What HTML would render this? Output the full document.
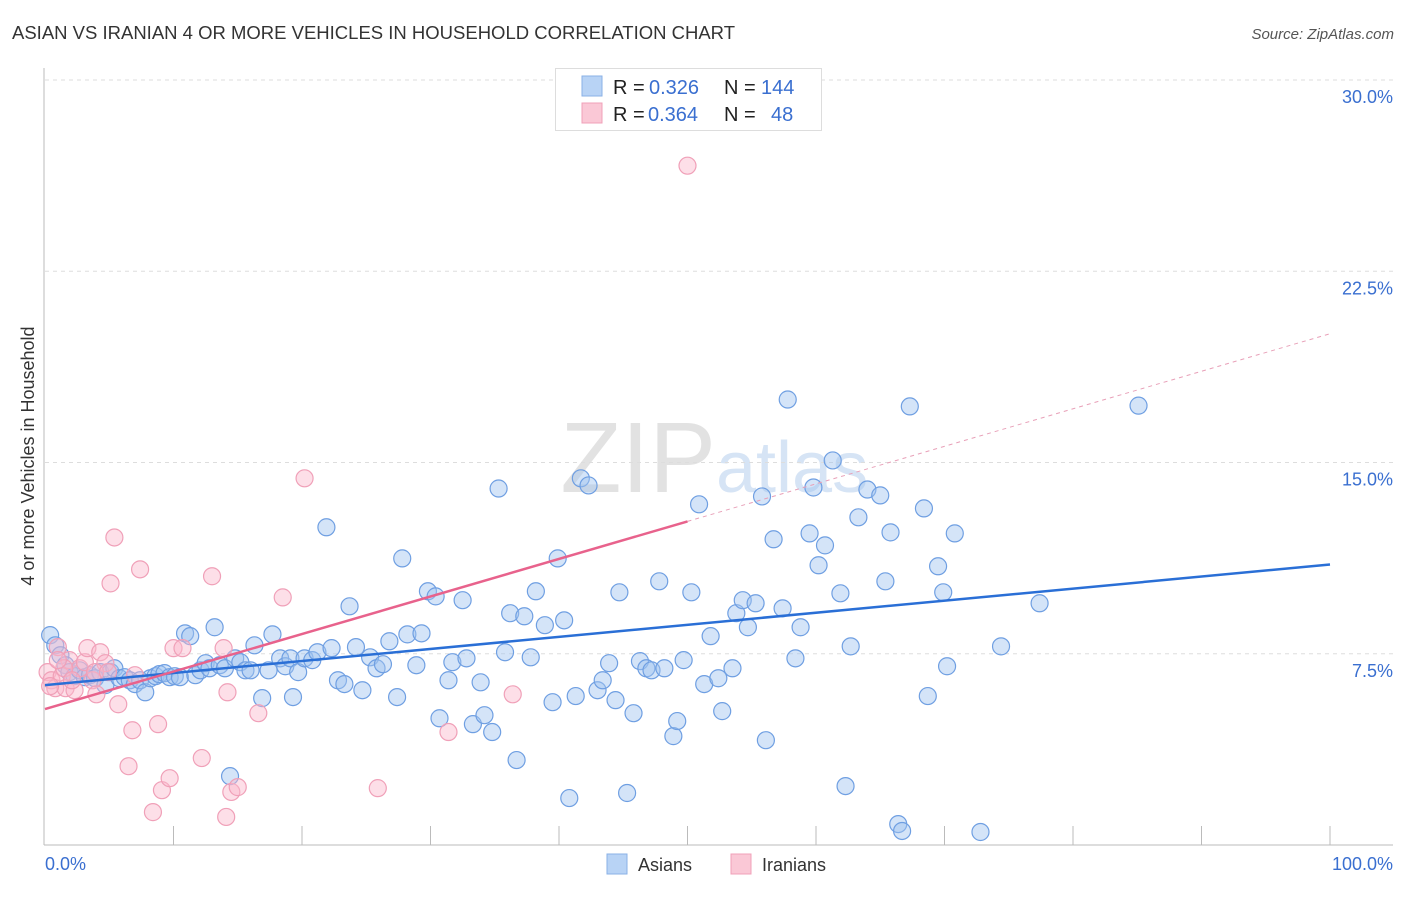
<!DOCTYPE html>
<html><head><meta charset="utf-8"><style>
body{margin:0;background:#fff;font-family:"Liberation Sans",sans-serif;}
svg text{font-family:"Liberation Sans",sans-serif;}
</style></head><body>
<svg id="chart" width="1406" height="892" xmlns="http://www.w3.org/2000/svg">
<text x="12" y="39" font-size="18.5" fill="#333">ASIAN VS IRANIAN 4 OR MORE VEHICLES IN HOUSEHOLD CORRELATION CHART</text>
<text x="1394" y="39" font-size="15" fill="#555" font-style="italic" text-anchor="end">Source: ZipAtlas.com</text>
<text x="34" y="456" font-size="18" fill="#333" text-anchor="middle" transform="rotate(-90 34 456)">4 or more Vehicles in Household</text>
<text x="716" y="492" font-size="100" fill="#e2e2e2" text-anchor="end" font-family="Liberation Serif">ZIP</text>
<text x="716" y="492" font-size="72" fill="#d6e4f5">atlas</text>
<g id="grid"></g><g id="axes"></g><g id="pts"></g><g id="lines"></g>
<g>
<rect x="555.5" y="68.5" width="266" height="62" fill="#fff" stroke="#ddd"/>
<rect x="582" y="76" width="20" height="20" fill="#b8d3f5" stroke="#8ab0e6"/>
<rect x="582" y="103" width="20" height="20" fill="#fac8d6" stroke="#f0a0b8"/>
<text x="613" y="94" font-size="20" fill="#222">R = <tspan x="649" fill="#3a6fd0">0.326</tspan><tspan x="724">N = </tspan><tspan x="761" fill="#3a6fd0">144</tspan></text>
<text x="613" y="121" font-size="20" fill="#222">R = <tspan x="648" fill="#3a6fd0">0.364</tspan><tspan x="724">N = </tspan><tspan x="771" fill="#3a6fd0">48</tspan></text>
</g>
<g>
<rect x="607" y="854" width="20" height="20" fill="#b8d3f5" stroke="#8ab0e6"/>
<text x="638" y="871" font-size="18" fill="#333">Asians</text>
<rect x="731" y="854" width="20" height="20" fill="#fac8d6" stroke="#f0a0b8"/>
<text x="762" y="871" font-size="18" fill="#333">Iranians</text>
</g>
</svg>
<script>
const yTicks=[7.5,15,22.5,30];
const yTickLabels=["7.5%","15.0%","22.5%","30.0%"];
const xTickLabels=["0.0%","100.0%"];
const asianX=[.4,.8,1.2,1.6,1.9,2.3,2.7,3.1,3.5,3.9,4.3,4.7,5.1,5.4,5.8,6.2,6.6,7.0,7.4,7.8,8.2,8.6,8.9,9.3,9.7,10.1,10.5,10.9,11.3,11.7,12.1,12.5,12.8,13.2,13.6,14.0,14.4,14.8,15.2,15.6,16.0,16.3,16.9,17.4,17.7,18.3,18.7,19.1,19.3,19.7,20.2,20.8,21.2,21.9,22.3,22.8,23.3,23.7,24.2,24.7,25.3,25.8,26.3,26.8,27.4,27.8,28.2,28.9,29.3,29.8,30.4,30.7,31.4,31.7,32.5,32.8,33.3,33.9,34.2,34.8,35.3,35.8,36.2,36.7,37.3,37.8,38.2,38.9,39.5,39.9,40.4,40.8,41.3,41.7,42.3,43.0,43.4,43.9,44.4,44.7,45.3,45.8,46.3,46.8,47.2,47.8,48.2,48.9,49.2,49.7,50.3,50.9,51.3,51.8,52.4,52.7,53.5,53.8,54.3,54.7,55.3,55.8,56.1,56.7,57.4,57.8,58.4,58.8,59.5,59.8,60.2,60.7,61.3,61.9,62.3,62.7,63.3,64.0,65.0,65.4,65.8,66.4,66.7,67.3,68.4,68.7,69.5,69.9,70.2,70.8,72.8,74.4,77.4,85.1];
const asianY=[8.23,7.83,7.44,7.05,6.78,6.62,6.85,6.58,6.66,6.54,6.78,6.27,6.78,6.93,6.54,6.58,6.46,6.31,6.46,5.99,6.54,6.62,6.70,6.74,6.58,6.62,6.58,8.30,8.19,6.66,6.85,7.13,6.93,8.54,7.05,6.93,2.70,7.32,7.17,6.85,6.85,7.83,5.76,6.85,8.26,7.32,7.01,7.32,5.80,6.78,7.32,7.25,7.56,12.46,7.72,6.46,6.31,9.36,7.76,6.07,7.36,6.93,7.09,7.99,5.80,11.24,8.26,7.05,8.30,9.95,9.75,4.97,6.46,7.17,9.60,7.32,4.74,6.38,5.09,4.43,13.98,7.56,9.09,3.33,8.97,7.36,9.95,8.62,5.60,11.24,8.81,1.84,5.84,14.38,14.10,6.07,6.46,7.13,5.68,9.91,2.04,5.17,7.21,6.93,6.85,10.34,6.93,4.27,4.86,7.25,9.91,13.36,6.31,8.19,6.54,5.25,6.93,9.09,9.60,8.54,9.48,13.67,4.11,11.99,9.28,17.47,7.32,8.54,12.22,14.02,10.97,11.75,15.08,9.87,2.31,7.79,12.85,13.94,13.71,10.34,12.26,.82,.55,17.20,13.20,5.84,10.93,9.91,7.01,12.22,.51,7.79,9.48,17.23];
const iranX=[.2,.5,.8,1.0,1.3,1.6,1.9,2.3,2.7,3.1,3.3,3.7,4.0,4.3,4.7,5.1,5.4,5.7,6.5,6.8,7.0,7.4,8.4,8.8,9.1,9.7,10.0,10.7,12.2,13.0,13.9,14.2,14.5,15.0,14.1,16.6,18.5,20.2,25.9,31.4,36.4,50.0,1.5,2.1,3.9,4.9,1.0,.4];
const iranY=[6.78,6.46,6.15,7.76,6.62,6.15,7.25,6.07,6.93,7.17,7.72,6.46,5.91,7.56,7.13,10.26,12.06,5.52,3.09,4.50,6.66,10.81,1.29,4.74,2.15,2.62,7.72,7.72,3.41,10.54,7.72,5.99,2.08,2.27,1.10,5.17,9.71,14.38,2.23,4.43,5.91,26.64,6.93,6.46,6.78,6.78,7.25,6.23];
const asianTrend=[6.27,11.0];
const iranTrend=[5.33,20.05];
const NS="http://www.w3.org/2000/svg";
const X0=45,X1=1330,Y0=845,YTOP=80;
const sx=v=>X0+(X1-X0)*v/100;
const sy=v=>Y0-(Y0-YTOP)*v/30;
function mk(t,a,p){const e=document.createElementNS(NS,t);for(const k in a)e.setAttribute(k,a[k]);p.appendChild(e);return e;}
const grid=document.getElementById('grid'),axes=document.getElementById('axes'),pts=document.getElementById('pts'),lines=document.getElementById('lines');
yTicks.forEach((t,i)=>{
 const l=mk('line',{x1:45,x2:1393,y1:sy(t),y2:sy(t),stroke:'#ddd','stroke-dasharray':'4,4'},grid);
 
 
 const tx=mk('text',{x:1393,y:sy(t)+23,'font-size':18,fill:'#3a6fd0','text-anchor':'end'},grid);
 tx.textContent=yTickLabels[i];
 
 
});
let a=mk('line',{x1:44,x2:44,y1:68,y2:845,stroke:'#bbb'},axes);


a=mk('line',{x1:44,x2:1393,y1:845,y2:845,stroke:'#bbb'},axes);


for(let k=1;k<=10;k++){const t=mk('line',{x1:sx(k*10),x2:sx(k*10),y1:826,y2:845,stroke:'#bbb'},axes);
 
 }
[[0,45,'start'],[1,1393,'end']].forEach(([i,x,an])=>{const t=mk('text',{x:x,y:870,'font-size':18,fill:'#3a6fd0','text-anchor':an},axes);t.textContent=xTickLabels[i];
 
 });
asianX.forEach((v,i)=>{const c=mk('circle',{cx:sx(v),cy:sy(asianY[i]),r:8.5,fill:'rgba(160,196,240,0.45)',stroke:'#6f9fe2','stroke-width':1.2},pts);
 
 });
iranX.forEach((v,i)=>{const c=mk('circle',{cx:sx(v),cy:sy(iranY[i]),r:8.5,fill:'rgba(250,185,205,0.45)',stroke:'#f0a0b8','stroke-width':1.2},pts);
 
 });
let ln=mk('line',{x1:sx(0),y1:sy(asianTrend[0]),x2:sx(100),y2:sy(asianTrend[1]),stroke:'#2a6fd6','stroke-width':2.5},lines);


const iAt=x=>iranTrend[0]+(iranTrend[1]-iranTrend[0])*x/100;
ln=mk('line',{x1:sx(0),y1:sy(iAt(0)),x2:sx(50),y2:sy(iAt(50)),stroke:'#e8628c','stroke-width':2.5},lines);


ln=mk('line',{x1:sx(50),y1:sy(iAt(50)),x2:sx(100),y2:sy(iAt(100)),stroke:'#e8a0b8','stroke-width':1,'stroke-dasharray':'4,4'},lines);


</script>
</body></html>
